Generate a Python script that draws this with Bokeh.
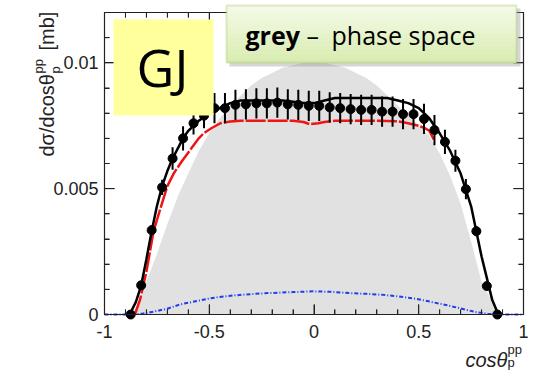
import math
from bokeh.plotting import figure
from bokeh.models import (FixedTicker, LinearAxis, BoxAnnotation, Label,
                          CustomJSTickFormatter, Range1d)
from bokeh.embed import file_html
from bokeh.resources import INLINE

# ---------------- data ----------------
pts_x = [-0.875, -0.825, -0.775, -0.725, -0.675, -0.625, -0.575, -0.525, -0.475,
         -0.425, -0.375, -0.325, -0.275, -0.225, -0.175, -0.125, -0.075, -0.025,
         0.025, 0.075, 0.125, 0.175, 0.225, 0.275, 0.325, 0.375, 0.425, 0.475,
         0.525, 0.575, 0.625, 0.675, 0.725, 0.775, 0.825, 0.875]
pts_y = [0.0, 0.00116, 0.00335, 0.00505, 0.0062, 0.0070, 0.0076, 0.0079, 0.0082,
         0.0082, 0.00833, 0.00835, 0.00839, 0.00839, 0.00842, 0.00835, 0.00833, 0.00829,
         0.00829, 0.00823, 0.00820, 0.00816, 0.00813, 0.00813, 0.00806, 0.00806, 0.00796, 0.00796,
         0.00777, 0.00733, 0.00686, 0.00611, 0.00498, 0.00331, 0.00113, 0.0]
pts_err = [0.0001, 0.00012, 0.0002, 0.0003, 0.00045, 0.00048, 0.00045, 0.0005, 0.0006,
           0.0006, 0.0006, 0.0006, 0.0006, 0.0006, 0.0006, 0.0006, 0.0006, 0.0006,
           0.0006, 0.0006, 0.0006, 0.0006, 0.0006, 0.0006, 0.0006, 0.0006, 0.0006, 0.0006,
           0.0006, 0.0006, 0.00048, 0.00044, 0.0004, 0.0002, 0.00012, 0.0001]

fit_x = [-0.88, -0.85, -0.825, -0.8, -0.775, -0.75, -0.725, -0.7, -0.675, -0.65, -0.625,
         -0.6, -0.575, -0.55, -0.5, -0.45, -0.4, -0.35, -0.3, -0.25, -0.2, -0.15, -0.1,
         -0.05, 0.0, 0.05, 0.1, 0.15, 0.2, 0.25, 0.3, 0.35, 0.4, 0.45, 0.5, 0.55, 0.6,
         0.65, 0.7, 0.75, 0.8, 0.85, 0.88]
fit_y = [0.0, 0.0005, 0.00115, 0.0022, 0.0033, 0.0043, 0.0051, 0.0057, 0.0062, 0.0066, 0.0070,
         0.0073, 0.0075, 0.0077, 0.0080, 0.0082, 0.0084, 0.0085, 0.0085, 0.0085, 0.0085, 0.0085, 0.00845,
         0.0084, 0.0084, 0.0085, 0.0086, 0.0086, 0.0086, 0.0086, 0.0086, 0.0086, 0.0085, 0.0084, 0.0082, 0.0078, 0.0072,
         0.0065, 0.0056, 0.0043, 0.0023, 0.0006, 0.0]

red_x = [-0.855, -0.83, -0.8, -0.766, -0.73, -0.7, -0.67, -0.63, -0.59, -0.55, -0.527,
         -0.49, -0.447, -0.4, -0.35, -0.3, -0.2, -0.1, -0.05, -0.02, 0.02, 0.05, 0.1,
         0.2, 0.3, 0.4, 0.45, 0.5, 0.53, 0.55, 0.575]
red_y = [0.0, 0.0006, 0.0017, 0.0033, 0.0043, 0.0051, 0.0056, 0.0061, 0.00655, 0.0070, 0.0072,
         0.0074, 0.0076, 0.00767, 0.0077, 0.0077, 0.0077, 0.0077, 0.00765, 0.00756, 0.0076, 0.00765, 0.0077,
         0.0077, 0.0077, 0.00768, 0.0076, 0.0075, 0.0074, 0.0073, 0.0069]

blue_x = [-1.0, -0.88, -0.82, -0.75, -0.7, -0.64, -0.58, -0.51, -0.45, -0.38, -0.3, -0.22,
          -0.1, 0.0, 0.08, 0.17, 0.25, 0.33, 0.4, 0.49, 0.56, 0.64, 0.7, 0.77, 0.83, 0.88, 1.0]
blue_y = [0.0, 0.0, 0.00003, 0.00014, 0.00023, 0.0004, 0.0005, 0.00062, 0.0007, 0.00076, 0.00081, 0.00085,
          0.00089, 0.00092, 0.0009, 0.00085, 0.00082, 0.00078, 0.00072, 0.00062, 0.0005, 0.00036, 0.00024, 0.0001,
          0.00003, 0.0, 0.0]

ps_x = [-0.87, -0.86, -0.8, -0.75, -0.7, -0.65, -0.6, -0.55, -0.5, -0.45, -0.4, -0.35, -0.3,
        -0.25, -0.2, -0.15, -0.1, -0.05, 0.0, 0.05, 0.1, 0.15, 0.2, 0.25, 0.3, 0.35, 0.4,
        0.45, 0.5, 0.55, 0.6, 0.65, 0.7, 0.75, 0.8, 0.85, 0.89]
ps_y = [0.0, 0.0, 0.0013, 0.0024, 0.0036, 0.0047, 0.0056, 0.0065, 0.0072, 0.0078, 0.0083, 0.0087, 0.0091,
        0.0094, 0.0096, 0.0098, 0.0099, 0.0100, 0.0100, 0.0100, 0.0099, 0.0098, 0.0096, 0.0094, 0.0091, 0.0087, 0.0083,
        0.0079, 0.0075, 0.0071, 0.0064, 0.0055, 0.0044, 0.0029, 0.0013, 0.0005, 0.0]

x_ticks = [-1, -0.5, 0, 0.5, 1]
x_minor = [round(-1 + 0.1 * i, 1) for i in range(21)]
y_ticks = [0, 0.005, 0.01]
y_minor = [round(0.001 * i, 3) for i in range(13)]

# ---------------- geometry helpers (pixel -> data) ----------------
W, H = 535, 370
FL, FR, FT, FB = 104, 523, 12, 314
XMIN, XMAX, YMIN, YMAX = -1.0, 1.0, 0.0, 0.012
DX = (XMAX - XMIN) / (FR - FL)   # data per pixel, x
DY = (YMAX - YMIN) / (FB - FT)   # data per pixel, y


def X(px):
    return XMIN + (px - FL) * DX


def Y(py):
    return YMIN + (FB - py) * DY


# the frame covers the whole canvas; the axes sit at fixed data locations
p = figure(width=W, height=H, x_range=Range1d(X(0), X(W)), y_range=Range1d(Y(H), Y(0)),
           x_axis_type=None, y_axis_type=None,
           output_backend="svg", toolbar_location=None,
           min_border=0, background_fill_color="white", border_fill_color="white")
p.grid.visible = False
p.outline_line_color = None

fmt = CustomJSTickFormatter(code="return tick.toString();")
blank = CustomJSTickFormatter(code="return '';")
AX = "#222222"


def make_axis(ticks, minor, loc, bounds, show, standoff):
    ax = LinearAxis(fixed_location=loc, bounds=bounds)
    ax.ticker = FixedTicker(ticks=ticks, minor_ticks=minor)
    ax.formatter = fmt if show else blank
    ax.major_tick_in = 10
    ax.major_tick_out = 0
    ax.minor_tick_in = 5
    ax.minor_tick_out = 0
    ax.axis_line_color = AX
    ax.axis_line_width = 1.2
    ax.major_tick_line_color = AX
    ax.minor_tick_line_color = AX
    ax.major_label_text_font = "Liberation Sans"
    ax.major_label_text_font_size = "18px"
    ax.major_label_text_color = AX
    ax.major_label_standoff = standoff
    return ax


# phase space (grey)
p.varea(x=ps_x, y1=[0.0] * len(ps_x), y2=ps_y, fill_color="#e1e1e1")
# blue dash-dotted
p.line(blue_x, blue_y, line_color="#1f3cf0", line_width=2, line_dash="4 2 1 2")
# red
p.line(red_x, red_y, line_color="#f01414", line_width=2.5, line_dash="20 2")
# black model
p.line(fit_x, fit_y, line_color="black", line_width=2.5)
# error bars + points
p.segment(x0=pts_x, y0=[y - e for y, e in zip(pts_y, pts_err)],
          x1=pts_x, y1=[y + e for y, e in zip(pts_y, pts_err)],
          line_color="black", line_width=2)
p.scatter(pts_x, pts_y, size=9, fill_color="black", line_color="black")

# inward tick marks on all four frame sides (ROOT style)
xt0, xt1, yt0, yt1 = [], [], [], []
for t in x_minor:
    ln = 10 if t in x_ticks else 5
    xt0 += [t, t]; xt1 += [t, t]
    yt0 += [YMIN, YMAX]; yt1 += [YMIN + ln * DY, YMAX - ln * DY]
for t in y_minor:
    ln = 10 if t in y_ticks else 5
    xt0 += [XMIN, XMAX]; xt1 += [XMIN + ln * DX, XMAX - ln * DX]
    yt0 += [t, t]; yt1 += [t, t]
p.segment(x0=xt0, y0=yt0, x1=xt1, y1=yt1, line_color=AX, line_width=1)

p.add_layout(make_axis(x_ticks, x_minor, YMIN, (XMIN, XMAX), True, 10), "below")
p.add_layout(make_axis(y_ticks, y_minor, XMIN, (YMIN, YMAX), True, 6), "left")
p.add_layout(make_axis(x_ticks, x_minor, YMAX, (XMIN, XMAX), False, 5), "above")
p.add_layout(make_axis(y_ticks, y_minor, XMAX, (YMIN, YMAX), False, 5), "right")

# ---------------- overlays ----------------
# yellow "GJ" box
p.add_layout(BoxAnnotation(left=X(113), right=X(213), top=Y(19), bottom=Y(115),
                           fill_color="#ffff9c", fill_alpha=1.0, line_color=None))
p.add_layout(Label(x=X(162), y=Y(66), text="GJ", text_font="Open Sans",
                   text_font_size="52px", text_color="black",
                   text_align="center", text_baseline="middle"))

# green box with shadow + vertical gradient
p.add_layout(BoxAnnotation(left=X(229), right=X(520), top=Y(8), bottom=Y(66),
                           fill_color="#8a8a8a", fill_alpha=0.35, line_color=None))
gl, gr, gt, gb = 226, 516, 5, 62
n = 14
c0 = (244, 250, 233)
c1 = (216, 237, 176)
for i in range(n):
    t = (i + 0.5) / n
    col = "#%02x%02x%02x" % tuple(int(round(a + (b - a) * t)) for a, b in zip(c0, c1))
    p.add_layout(BoxAnnotation(left=X(gl), right=X(gr),
                               top=Y(gt + (gb - gt) * i / n),
                               bottom=Y(gt + (gb - gt) * (i + 1) / n + 0.5),
                               fill_color=col, fill_alpha=1.0, line_color=None))
p.add_layout(BoxAnnotation(left=X(gl), right=X(gr), top=Y(gt), bottom=Y(gb),
                           fill_alpha=0.0, line_color="#9bbb59", line_width=2))
BOXY = 34
p.add_layout(Label(x=X(245), y=Y(BOXY), text="grey", text_font="Open Sans",
                   text_font_size="25px", text_font_style="bold", text_color="black",
                   text_align="left", text_baseline="middle"))
p.add_layout(Label(x=X(306), y=Y(BOXY), text="–", text_font="Open Sans",
                   text_font_size="25px", text_color="black",
                   text_align="left", text_baseline="middle"))
p.add_layout(Label(x=X(331), y=Y(BOXY), text="phase space", text_font="Open Sans",
                   text_font_size="25px", text_color="black",
                   text_align="left", text_baseline="middle"))

# ---------------- axis titles ----------------
rot = math.pi / 2
TC = "#222222"
p.add_layout(Label(x=X(46), y=Y(156), text="dσ/dcosθ", angle=rot,
                   text_font="Liberation Sans", text_font_size="20px", text_color=TC,
                   text_align="left", text_baseline="middle"))
p.add_layout(Label(x=X(55), y=Y(73), text="p", angle=rot,
                   text_font="Liberation Sans", text_font_size="13px", text_color=TC,
                   text_align="left", text_baseline="middle"))
p.add_layout(Label(x=X(38), y=Y(73), text="pp", angle=rot,
                   text_font="Liberation Sans", text_font_size="13px", text_color=TC,
                   text_align="left", text_baseline="middle"))
p.add_layout(Label(x=X(46), y=Y(50), text="[mb]", angle=rot,
                   text_font="Liberation Sans", text_font_size="20px", text_color=TC,
                   text_align="left", text_baseline="middle"))

p.add_layout(Label(x=X(465), y=Y(359.5), text="cosθ",
                   text_font="Liberation Sans", text_font_size="20px", text_font_style="italic",
                   text_color=TC, text_align="left", text_baseline="middle"))
p.add_layout(Label(x=X(507), y=Y(348.5), text="pp",
                   text_font="Liberation Sans", text_font_size="13px",
                   text_color=TC, text_align="left", text_baseline="middle"))
p.add_layout(Label(x=X(507), y=Y(362), text="p",
                   text_font="Liberation Sans", text_font_size="13px",
                   text_color=TC, text_align="left", text_baseline="middle"))

open("out.html", "w").write(file_html(p, INLINE))
